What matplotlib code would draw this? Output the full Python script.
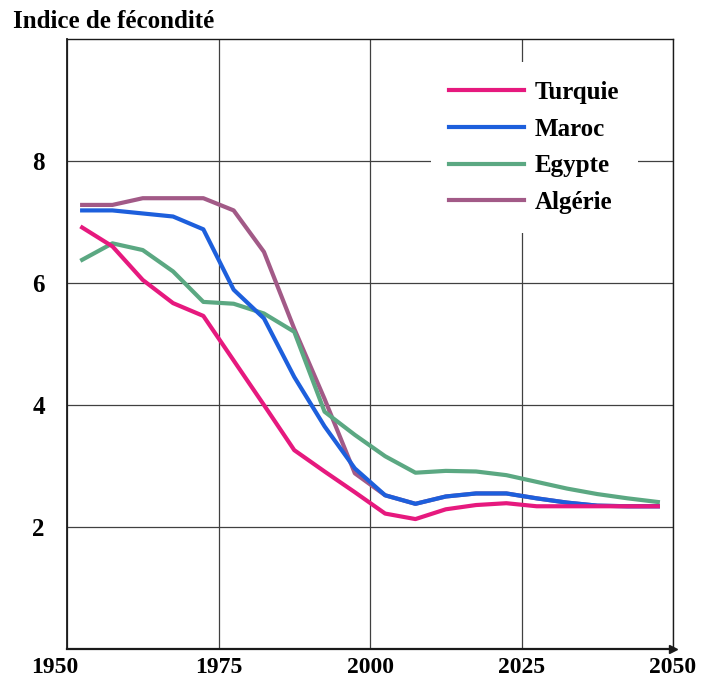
import matplotlib.pyplot as plt
from matplotlib.transforms import ScaledTranslation

# --- donnees ---
annees = [1952.5, 1957.5, 1962.5, 1967.5, 1972.5, 1977.5, 1982.5, 1987.5, 1992.5, 1997.5,
          2002.5, 2007.5, 2012.5, 2017.5, 2022.5, 2027.5, 2032.5, 2037.5, 2042.5, 2047.5]

turquie = [6.91, 6.60, 6.05, 5.67, 5.46, 4.73, 4.00, 3.26, 2.91, 2.57,
           2.22, 2.13, 2.29, 2.36, 2.39, 2.34, 2.34, 2.34, 2.34, 2.34]
maroc = [7.19, 7.19, 7.14, 7.09, 6.88, 5.89, 5.42, 4.46, 3.65, 2.96,
         2.52, 2.38, 2.50, 2.55, 2.55, 2.47, 2.40, 2.35, 2.34, 2.34]
egypte = [6.38, 6.65, 6.54, 6.19, 5.69, 5.66, 5.50, 5.20, 3.89, 3.51,
          3.16, 2.89, 2.92, 2.91, 2.85, 2.74, 2.63, 2.54, 2.47, 2.41]
algerie = [7.28, 7.28, 7.39, 7.39, 7.39, 7.19, 6.51, 5.25, 4.10, 2.88,
           2.52, 2.38, 2.50, 2.55, 2.55, 2.47, 2.40, 2.35, 2.34, 2.34]

x_ticks = [1950, 1975, 2000, 2025, 2050]
y_ticks = [2, 4, 6, 8]

couleurs = {
    "Turquie": "#e6197e",
    "Maroc": "#1d5fdc",
    "Egypte": "#5ba882",
    "Algérie": "#a25a87",
}

plt.rcParams['font.family'] = ['Liberation Serif', 'DejaVu Serif']
plt.rcParams['font.weight'] = 'bold'
fs = 18

fig = plt.figure(figsize=(7.01, 6.84), dpi=100)
ax = fig.add_axes([67 / 701, 1 - 649 / 684, 606 / 701, 610 / 684])

lw = 3.0
l_alg, = ax.plot(annees, algerie, color=couleurs["Algérie"], lw=lw, zorder=3)
l_egy, = ax.plot(annees, egypte, color=couleurs["Egypte"], lw=lw, zorder=4)
l_mar, = ax.plot(annees, maroc, color=couleurs["Maroc"], lw=lw, zorder=5)
l_tur, = ax.plot(annees, turquie, color=couleurs["Turquie"], lw=lw, zorder=6)

ax.set_xlim(1950, 2050)
ax.set_ylim(0, 10)
ax.set_xticks(x_ticks)
ax.set_yticks(y_ticks)
ax.tick_params(length=0, labelsize=fs)
ax.tick_params(axis='x', pad=6, labelsize=17)
ax.tick_params(axis='y', pad=16)
ax.grid(True, color='0.25', lw=0.9)
ax.set_axisbelow(True)
for s in ax.spines.values():
    s.set_color('0.1')
    s.set_linewidth(1.0)
ax.spines['bottom'].set_linewidth(1.6)
ax.spines['left'].set_linewidth(1.3)

# fleche au bout de l'axe des abscisses
ax.plot(1, 0, marker='>', color='0.1', markersize=6, transform=ax.transAxes, clip_on=False, zorder=7)

# premier label legerement decale a gauche
lab0 = ax.get_xticklabels()[0]
lab0.set_transform(lab0.get_transform() + ScaledTranslation(-12 / 100, 0, fig.dpi_scale_trans))

leg = ax.legend([l_tur, l_mar, l_egy, l_alg], ["Turquie", "Maroc", "Egypte", "Algérie"],
                loc='center', bbox_to_anchor=(0.771, 0.822), fontsize=fs,
                frameon=True, facecolor='white', edgecolor='none', framealpha=1,
                handlelength=3.0, handletextpad=0.4, labelspacing=0.55,
                borderpad=0.75, borderaxespad=0)
for h in leg.legend_handles:
    h.set_linewidth(3.0)

fig.text(13 / 701, 1 - 21 / 684, "Indice de fécondité", fontsize=fs, fontweight='bold',
         ha='left', va='center')

fig.savefig("out.png", dpi=100)
